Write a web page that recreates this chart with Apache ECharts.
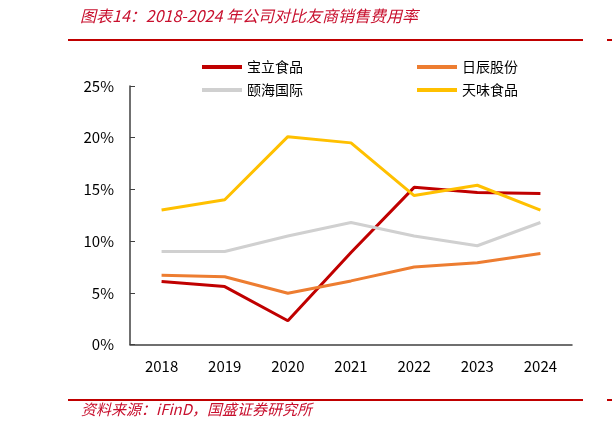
<!DOCTYPE html>
<html><head><meta charset="utf-8">
<script src="https://cdn.jsdelivr.net/npm/echarts@6/dist/echarts.min.js"></script>
<style>html,body{margin:0;padding:0;background:#fff}#c{width:612px;height:422px}</style>
</head><body><div id="c"></div>
<script>
const years = ['2018','2019','2020','2021','2022','2023','2024'];
const baoli = [6.1, 5.6, 2.3, 8.9, 15.2, 14.7, 14.6];
const richen = [6.7, 6.55, 4.95, 6.15, 7.5, 7.9, 8.8];
const yihai = [9.0, 9.0, 10.5, 11.8, 10.5, 9.55, 11.8];
const tianwei = [13.0, 14.0, 20.1, 19.5, 14.4, 15.4, 13.0];
const yTicks = [0, 5, 10, 15, 20, 25];

const chart = echarts.init(document.getElementById('c'));
const font = '"Noto Sans CJK SC", "Noto Sans", sans-serif';
const mk = (name, data, color) => ({
  name, type: 'line', data, symbol: 'none',
  lineStyle: {color, width: 3}, itemStyle: {color}
});
chart.setOption({
  animation: false,
  grid: {left: 130, right: 40, top: 86, bottom: 77.5},
  legend: [
    {data: ['宝立食品', '颐海国际'], orient: 'vertical', left: 197, top: 55, itemWidth: 40, itemHeight: 4, itemGap: 9, icon: 'rect',
     textStyle: {fontFamily: font, fontSize: 14, color: '#000'}},
    {data: ['日辰股份', '天味食品'], orient: 'vertical', left: 412, top: 55, itemWidth: 40, itemHeight: 4, itemGap: 9, icon: 'rect',
     textStyle: {fontFamily: font, fontSize: 14, color: '#000'}}
  ],
  xAxis: {
    type: 'category', data: years, boundaryGap: true,
    axisLine: {lineStyle: {color: '#404040', width: 1.5}},
    axisTick: {inside: true, length: 5, lineStyle: {color: '#404040'}},
    axisLabel: {fontFamily: font, fontSize: 15, color: '#000', margin: 14}
  },
  yAxis: {
    type: 'value', min: yTicks[0], max: yTicks[yTicks.length - 1], interval: 5,
    splitLine: {show: false},
    axisLine: {show: true, lineStyle: {color: '#404040', width: 1.5}},
    axisTick: {show: true, inside: true, length: 5, lineStyle: {color: '#404040'}},
    axisLabel: {fontFamily: font, fontSize: 15, color: '#000', margin: 16, formatter: v => v + '%'}
  },
  series: [
    mk('宝立食品', baoli, '#C00000'),
    mk('日辰股份', richen, '#ED7D31'),
    mk('颐海国际', yihai, '#D0D0D0'),
    mk('天味食品', tianwei, '#FFC000')
  ],
  graphic: [
    {type: 'text', left: 80, top: 8, style: {text: '图表14：2018-2024 年公司对比友商销售费用率', fill: '#C8102E', font: 'italic 16px ' + font}},
    {type: 'rect', shape: {x: 68, y: 39, width: 515, height: 2}, style: {fill: '#C00000'}},
    {type: 'rect', shape: {x: 607, y: 39, width: 5, height: 2}, style: {fill: '#C00000'}},
    {type: 'rect', shape: {x: 68, y: 399, width: 515, height: 2}, style: {fill: '#C00000'}},
    {type: 'rect', shape: {x: 607, y: 399, width: 5, height: 2}, style: {fill: '#C00000'}},
    {type: 'text', left: 81, top: 402, style: {text: '资料来源：iFinD，国盛证券研究所', fill: '#C8102E', font: 'italic 15px ' + font}}
  ]
});
</script></body></html>
